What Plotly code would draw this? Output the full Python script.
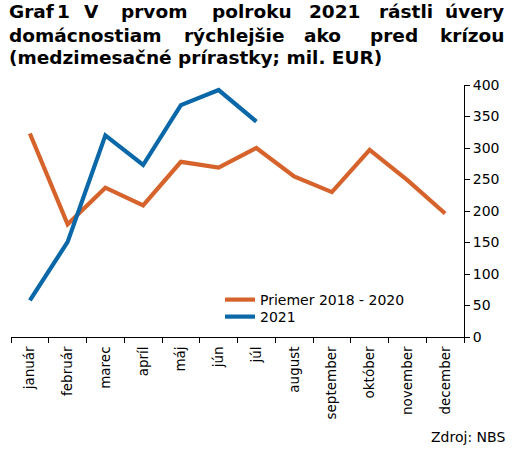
import plotly.graph_objects as go

months = ["január", "február", "marec", "apríl", "máj", "jún", "júl",
          "august", "september", "október", "november", "december"]
avg_2018_2020 = [323, 179, 237, 209, 278, 269, 300, 255, 230, 297, 249, 196]
y2021 = [58, 151, 320, 273, 368, 392, 342]

name_avg = "Priemer 2018 - 2020"
name_2021 = "2021"
y_ticks = [0, 50, 100, 150, 200, 250, 300, 350, 400]

ORANGE = "#D5632B"
BLUE = "#0A68A8"
FONT = "DejaVu Sans, Verdana, sans-serif"

W, H = 520, 453
L, R, T, B = 11, 56, 85, 116
PW, PH = W - L - R, H - T - B

def px_x(px):
    return (px - L) / PW

def px_y(py):
    return (H - B - py) / PH

fig = go.Figure()
fig.add_trace(go.Scatter(x=months, y=avg_2018_2020, mode="lines", name=name_avg,
                         line=dict(color=ORANGE, width=4.2), legend="legend"))
fig.add_trace(go.Scatter(x=months[:len(y2021)], y=y2021, mode="lines", name=name_2021,
                         line=dict(color=BLUE, width=4.2), legend="legend2"))

# Title (justified lines, word by word): (text, x px, anchor)
title_lines = [
    (11.5, [("Graf", 7, "left"), ("1", 63.5, "center"), ("V", 91, "center"),
            ("prvom", 154, "center"), ("polroku", 251.5, "center"), ("2021", 335, "center"),
            ("rástli", 405.5, "center"), ("úvery", 506, "right")]),
    (35.5, [("domácnostiam", 7, "left"), ("rýchlejšie", 234, "center"), ("ako", 322.5, "center"),
            ("pred", 393.5, "center"), ("krízou", 506, "right")]),
    (57.5, [("(medzimesačné prírastky; mil. EUR)", 7, "left")]),
]
annotations = []
for py, words in title_lines:
    for w, px, anc in words:
        annotations.append(dict(text="<b>%s</b>" % w, x=px_x(px), y=px_y(py),
                                xref="paper", yref="paper", xanchor=anc,
                                yanchor="middle", showarrow=False,
                                font=dict(family=FONT, size=18.5, color="#000")))
annotations.append(dict(text="Zdroj: NBS", x=px_x(507), y=px_y(437), xref="paper",
                        yref="paper", xanchor="right", yanchor="middle",
                        showarrow=False, font=dict(family=FONT, size=14, color="#000")))

leg_common = dict(xanchor="left", yanchor="middle", bgcolor="rgba(0,0,0,0)",
                  font=dict(size=14), itemwidth=30)
fig.update_layout(
    width=W, height=H,
    margin=dict(l=L, r=R, t=T, b=B, pad=0, autoexpand=False),
    paper_bgcolor="white", plot_bgcolor="white",
    font=dict(family=FONT, size=13.5, color="#000"),
    showlegend=True,
    legend=dict(x=px_x(220), y=px_y(300), **leg_common),
    legend2=dict(x=px_x(220), y=px_y(317), **leg_common),
    annotations=annotations,
)
fig.update_xaxes(type="category", categoryorder="array", categoryarray=months,
                 range=[-0.5, 11.5], showline=True, linecolor="#000", linewidth=1,
                 ticks="outside", ticklen=5, tickcolor="#000", tickson="boundaries",
                 tickangle=-90, showgrid=False, zeroline=False, automargin=False,
                 ticklabelstandoff=3, tickfont=dict(size=13.5))
fig.update_yaxes(side="right", range=[0, 400], tickvals=y_ticks,
                 showline=True, linecolor="#000", linewidth=1,
                 ticks="outside", ticklen=5, tickcolor="#000", automargin=False,
                 showgrid=False, zeroline=False, tickfont=dict(size=14))

fig.write_html("out.html", config={"displayModeBar": False},
               post_script="document.body.style.margin='0px';")
